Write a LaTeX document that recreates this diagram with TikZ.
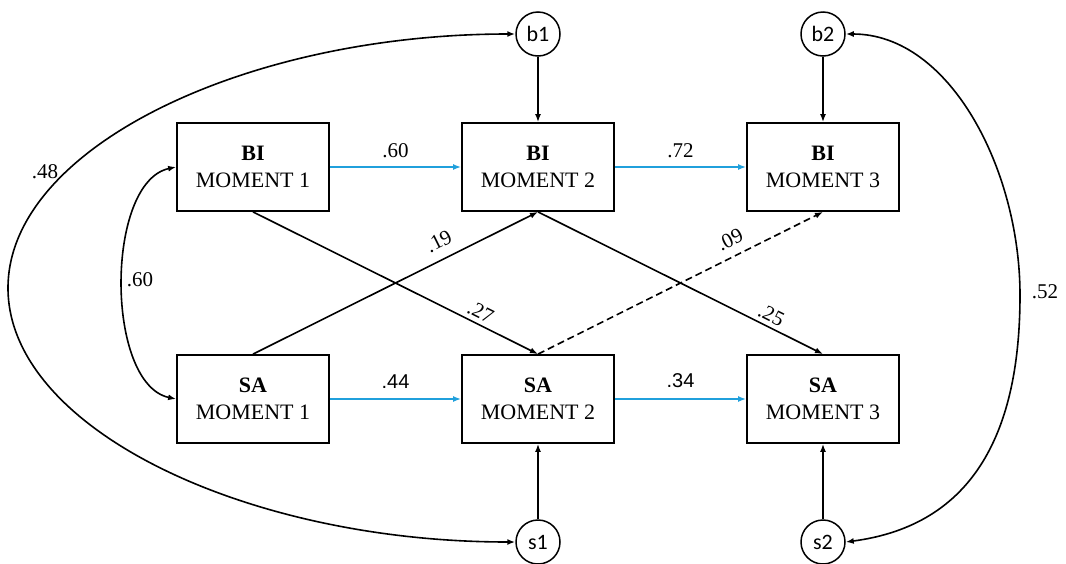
\documentclass[tikz,border=0pt]{standalone}
\usepackage{fontspec}
\setmainfont{Liberation Serif}
\newfontfamily\circfont{Carlito}
\newfontfamily\arialfont{Liberation Sans}
\usetikzlibrary{arrows.meta}
\definecolor{pathblue}{RGB}{32,160,220}
\tikzset{
  box/.style={draw, line width=1.8pt, minimum width=152pt, minimum height=88pt, inner sep=0pt, align=center, font=\fontsize{22}{27}\selectfont},
  err/.style={draw, circle, line width=1.5pt, minimum size=44pt, inner sep=0pt, font=\circfont\fontsize{22}{24}\selectfont},
  arr/.style={line width=1.6pt, -{Latex[length=8pt,width=6pt]}},
  darr/.style={line width=1.6pt, {Latex[length=8pt,width=6pt]}-{Latex[length=8pt,width=6pt]}},
  barr/.style={line width=1.8pt, draw=pathblue, -{Latex[length=8pt,width=6pt]}},
  lab/.style={font=\fontsize{21}{23}\selectfont, inner sep=1pt},
  slab/.style={font=\arialfont\fontsize{20}{23}\selectfont, inner sep=1pt}
}
\begin{document}
\begin{tikzpicture}[x=1pt,y=-1pt]
\useasboundingbox (0,0) rectangle (1066,563);
\node[box] (BI1) at (253,167) {\textbf{BI}\\MOMENT 1};
\node[box] (BI2) at (538,167) {\textbf{BI}\\MOMENT 2};
\node[box] (BI3) at (823,167) {\textbf{BI}\\MOMENT 3};
\node[box] (SA1) at (253,399) {\textbf{SA}\\MOMENT 1};
\node[box] (SA2) at (538,399) {\textbf{SA}\\MOMENT 2};
\node[box] (SA3) at (823,399) {\textbf{SA}\\MOMENT 3};
\node[err] (b1) at (538,34) {b1};
\node[err] (b2) at (823,34) {b2};
\node[err] (s1) at (538,542) {s1};
\node[err] (s2) at (823,542) {s2};

\draw[barr] (BI1) -- (BI2) node[lab, midway, above=7pt] {.60};
\draw[barr] (BI2) -- (BI3) node[lab, midway, above=7pt] {.72};
\draw[barr] (SA1) -- (SA2) node[slab, midway, above=9pt] {.44};
\draw[barr] (SA2) -- (SA3) node[slab, midway, above=9pt] {.34};

\draw[arr] (b1) -- (BI2);
\draw[arr] (b2) -- (BI3);
\draw[arr] (s1) -- (SA2);
\draw[arr] (s2) -- (SA3);

\draw[arr] (SA1.north) -- (BI2.south) node[lab, pos=0.68, sloped, above=9pt] {.19};
\draw[arr] (BI1.south) -- (SA2.north) node[lab, pos=0.78, sloped, above=3pt] {.27};
\draw[arr, dashed, dash pattern=on 7pt off 4pt] (SA2.north) -- (BI3.south) node[lab, pos=0.70, sloped, above=8pt] {.09};
\draw[arr] (BI2.south) -- (SA3.north) node[lab, pos=0.80, sloped, above=3pt] {.25};

\draw[darr] (BI1.west) .. controls (105,182) and (105,384) .. (SA1.west);
\node[lab] (l60) at (140,280) {.60};

\draw[darr] (b1.west) .. controls (245,34) and (8,148) .. (8,288) .. controls (8,428) and (245,542) .. (s1.west);
\node[lab] (l48) at (45,172) {.48};

\draw[darr] (b2.east) .. controls (950,34) and (1020,170) .. (1020,295) .. controls (1020,430) and (975,525) .. (s2.east);
\node[lab] (l52) at (1045,292) {.52};
\end{tikzpicture}
\end{document}
